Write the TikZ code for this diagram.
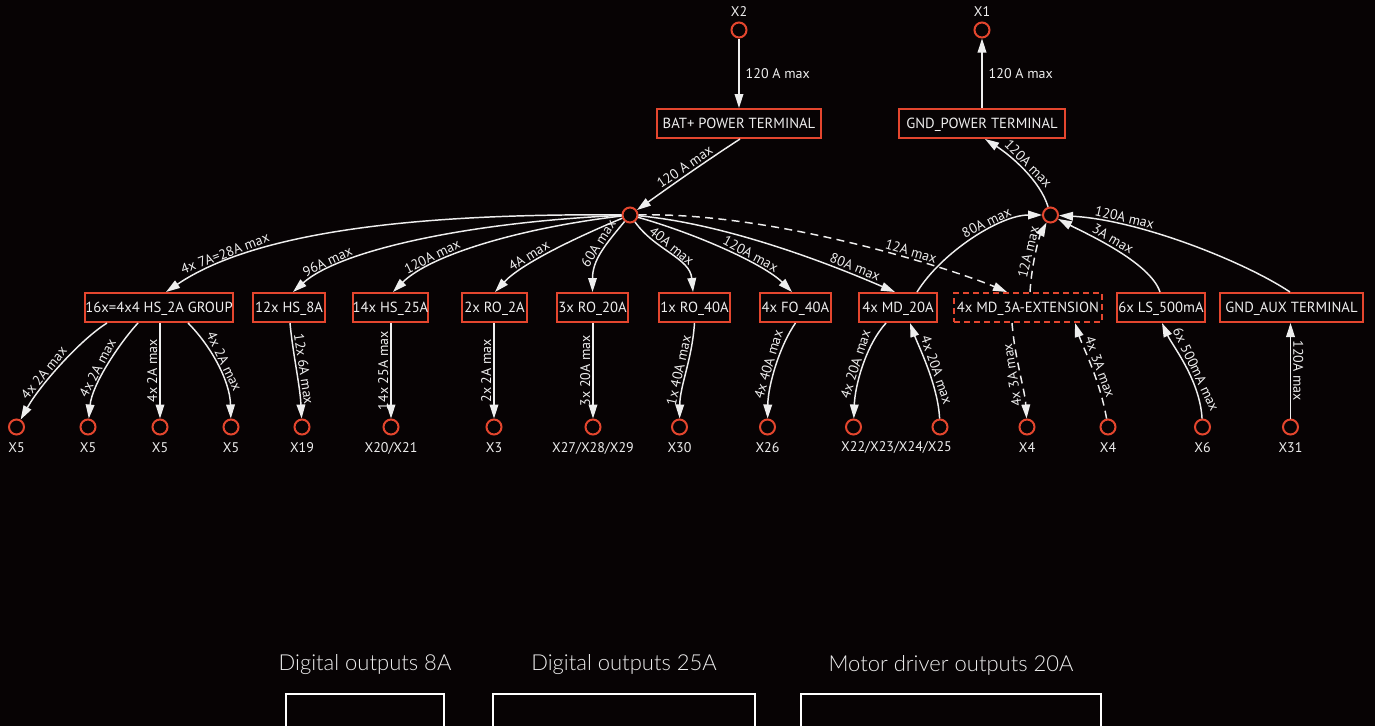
\documentclass[tikz,border=0pt]{standalone}
\usepackage{fontspec}
\setmainfont{PT Sans}
\newfontfamily\titlefont{Lato Light}
\usetikzlibrary{arrows.meta,calc}
\definecolor{bg}{RGB}{7,3,4}
\definecolor{brd}{RGB}{228,70,46}
\definecolor{fg}{RGB}{238,238,238}
\begin{document}
\begin{tikzpicture}[x=0.75pt,y=0.75pt,
 box/.style={draw=brd,line width=1.5pt,minimum height=21.75pt,inner sep=0pt,text=fg,font=\fontsize{11}{13}\selectfont,text height=7.7pt,text depth=0pt},
 bw/.style={minimum width=#1*0.75pt},
 dbox/.style={box,dash pattern=on 4.5pt off 3pt},
 port/.style={circle,draw=brd,line width=1.5pt,minimum size=11.25pt,inner sep=0pt},
 lab/.style={text=fg,font=\fontsize{10.5}{12}\selectfont,inner sep=1.5pt},
 conn/.style={draw=fg,line width=1.1pt,-{Triangle[length=10.5pt,width=6.5pt]}},
 dconn/.style={conn,dash pattern=on 6pt off 4pt},
 title/.style={text=fg,font=\titlefont\fontsize{16.5}{19}\selectfont},
 plabB/.style={label={[lab,label distance=3.5pt]below:#1}},
 plabA/.style={label={[lab,label distance=2pt]above:#1}},
]
\fill[bg] (0,0) rectangle (1375,-726);
\useasboundingbox (0,0) rectangle (1375,-726);

% top
\node[port,plabA=X2] (x2) at (739,-30) {};
\node[port,plabA=X1] (x1) at (982,-30) {};
\node[box,bw=164] (bat) at (739,-123.5) {BAT+ POWER TERMINAL};
\node[box,bw=166] (gndp) at (982,-123.5) {GND\_POWER TERMINAL};
\node[port] (h1) at (630,-215) {};
\node[port] (h2) at (1050.5,-215) {};

% row of boxes
\node[box,bw=148] (grp) at (159,-307.5) {16x=4x4 HS\_2A GROUP};
\node[box,bw=72] (hs8) at (289,-307.5) {12x HS\_8A};
\node[box,bw=75] (hs25) at (390.5,-307.5) {14x HS\_25A};
\node[box,bw=65] (ro2) at (494.5,-307.5) {2x RO\_2A};
\node[box,bw=71] (ro20) at (592.5,-307.5) {3x RO\_20A};
\node[box,bw=71] (ro40) at (694.5,-307.5) {1x RO\_40A};
\node[box,bw=71] (fo40) at (795.5,-307.5) {4x FO\_40A};
\node[box,bw=78] (md20) at (898,-307.5) {4x MD\_20A};
\node[box,dbox,bw=148] (md3) at (1028,-307.5) {4x MD\_3A-EXTENSION};
\node[box,bw=88] (ls) at (1161,-307.5) {6x LS\_500mA};
\node[box,bw=143] (aux) at (1291.5,-307.5) {GND\_AUX TERMINAL};

% bottom ports
\node[port,plabB=X5] (p1) at (16.5,-427) {};
\node[port,plabB=X5] (p2) at (88,-427) {};
\node[port,plabB=X5] (p3) at (160,-427) {};
\node[port,plabB=X5] (p4) at (231,-427) {};
\node[port,plabB=X19] (p19) at (302,-427) {};
\node[port,plabB=X20/X21] (p20) at (391,-427) {};
\node[port,plabB=X3] (p3x) at (494,-427) {};
\node[port,plabB=X27/X28/X29] (p27) at (593,-427) {};
\node[port,plabB=X30] (p30) at (679.5,-427) {};
\node[port,plabB=X26] (p26) at (767.5,-427) {};
\node[port] (p22) at (853.5,-427) {};
\node[port] (p22b) at (940,-427) {};
\node[lab] (x22lab) at (896.5,-447) {X22/X23/X24/X25};
\node[port,plabB=X4] (p4a) at (1027,-427) {};
\node[port,plabB=X4] (p4b) at (1108,-427) {};
\node[port,plabB=X6] (p6) at (1202.5,-427) {};
\node[port,plabB=X31] (p31) at (1290.5,-427) {};

% top edges
\draw[conn] (x2) -- node[lab,right,xshift=3pt]{120 A max} (bat);
\draw[conn] (gndp) -- node[lab,right,xshift=3pt]{120 A max} (x1);
\draw[conn] ($(bat.south)+(1,0)$) .. controls (700,-165) and (665,-190) .. node[lab,sloped,above,pos=.45]{120 A max} (h1);
\draw[conn] (h2) .. controls (1040,-180) and (1010,-155) .. node[lab,sloped,above,pos=.5]{120A max} ($(gndp.south)+(3,0)$);

% hub 1 outgoing
\draw[conn] (h1) .. controls (400,-213) and (250,-235) .. node[lab,sloped,above,pos=.79]{4x 7A=28A max} ($(grp.north)+(7,0)$);
\draw[conn] (h1) .. controls (470,-222) and (340,-250) .. node[lab,sloped,above,pos=.8]{96A max} ($(hs8.north)+(4,0)$);
\draw[conn] (h1) .. controls (520,-228) and (430,-255) .. node[lab,sloped,above,pos=.72]{120A max} ($(hs25.north)+(2.5,0)$);
\draw[conn] (h1) .. controls (570,-240) and (520,-265) .. node[lab,sloped,above,pos=.62]{4A max} ($(ro2.north)+(0.5,0)$);
\draw[conn] (h1) .. controls (605,-245) and (592.5,-260) .. node[lab,sloped,above,pos=.4]{60A max} (ro20.north);
\draw[conn] (h1) .. controls (655,-250) and (690,-258) .. node[lab,sloped,above,pos=.45]{40A max} ($(ro40.north)+(-1.5,0)$);
\draw[conn] (h1) .. controls (700,-235) and (765,-265) .. node[lab,sloped,above,pos=.62]{120A max} ($(fo40.north)+(-3.5,0)$);
\draw[conn] (h1) .. controls (740,-225) and (860,-277) .. node[lab,sloped,above,pos=.74]{80A max} ($(md20.north)+(-3,0)$);
\draw[dconn] (h1) .. controls (780,-212) and (960,-272) .. node[lab,sloped,above,pos=.63]{12A max} ($(md3.north)+(-21,0)$);

% hub 2 incoming
\draw[conn] ($(md20.north)+(19,0)$) .. controls (942,-252) and (1000,-215) .. node[lab,sloped,above,pos=.62]{80A max} (h2);
\draw[dconn] ($(md3.north)+(2,0)$) .. controls (1032,-260) and (1040,-235) .. node[lab,sloped,above,pos=.45]{12A max} (h2);
\draw[conn] ($(ls.north)+(-1,0)$) .. controls (1150,-262) and (1085,-233) .. node[lab,sloped,above,pos=.55]{3A max} (h2);
\draw[conn] ($(aux.north)+(-1.5,0)$) .. controls (1245,-262) and (1140,-220) .. node[lab,sloped,above,pos=.75]{120A max} (h2);

% lower edges
\draw[conn] ($(grp.south)+(-52,0)$) .. controls (80,-340) and (40,-385) .. node[lab,sloped,above,pos=.62]{4x 2A max} (p1);
\draw[conn] ($(grp.south)+(-21,0)$) .. controls (118,-345) and (92,-385) .. node[lab,sloped,above,pos=.55]{4x 2A max} (p2);
\draw[conn] (p3 |- grp.south) -- node[lab,rotate=90,above]{4x 2A max} (p3);
\draw[conn] ($(grp.south)+(29,0)$) .. controls (210,-345) and (230,-380) .. node[lab,sloped,above,pos=.5]{4x 2A max} (p4);
\draw[conn] ($(hs8.south)+(1,0)$) .. controls (293,-355) and (300,-385) .. node[lab,sloped,above,pos=.5]{12x 6A max} (p19);
\draw[conn] (p20 |- hs25.south) -- node[lab,rotate=90,above]{14x 25A max} (p20);
\draw[conn] (p3x |- ro2.south) -- node[lab,rotate=90,above]{2x 2A max} (p3x);
\draw[conn] (p27 |- ro20.south) -- node[lab,rotate=90,above]{3x 20A max} (p27);
\draw[conn] (ro40.south) .. controls (692,-360) and (680,-385) .. node[lab,sloped,above,pos=.5]{1x 40A max} (p30);
\draw[conn] (fo40.south) .. controls (780,-345) and (768,-385) .. node[lab,sloped,above,pos=.5]{4x 40A max} (p26);
\draw[conn] ($(md20.south)+(-12,0)$) .. controls (866,-345) and (855,-385) .. node[lab,sloped,above,pos=.5]{4x 20A max} (p22);
\draw[conn] (p22b) .. controls (938,-385) and (918,-345) .. node[lab,sloped,above,pos=.44]{4x 20A max} ($(md20.south)+(12,0)$);
\draw[dconn] ($(md3.south)+(-16,0)$) .. controls (1015,-360) and (1025,-390) .. node[lab,rotate=99,above,pos=.5]{4x 3A max} (p4a);
\draw[dconn] (p4b) .. controls (1100,-380) and (1082,-345) .. node[lab,sloped,above,pos=.45]{4x 3A max} ($(md3.south)+(47,0)$);
\draw[conn] (p6) .. controls (1200,-380) and (1172,-345) .. node[lab,sloped,above,pos=.42]{6x 500mA max} ($(ls.south)+(1,0)$);
\draw[conn] (p31) -- node[lab,rotate=-90,above]{120A max} (aux.south -| p31);

% bottom legend
\node[title] (t1) at (365,-665) {Digital outputs 8A};
\node[title] (t2) at (624,-665) {Digital outputs 25A};
\node[title] (t3) at (951,-665) {Motor driver outputs 20A};
\draw[white,line width=1.5pt] (286,-694) rectangle (444,-745);
\draw[white,line width=1.5pt] (493,-694) rectangle (755,-745);
\draw[white,line width=1.5pt] (801,-694) rectangle (1101,-745);
\end{tikzpicture}
\end{document}
